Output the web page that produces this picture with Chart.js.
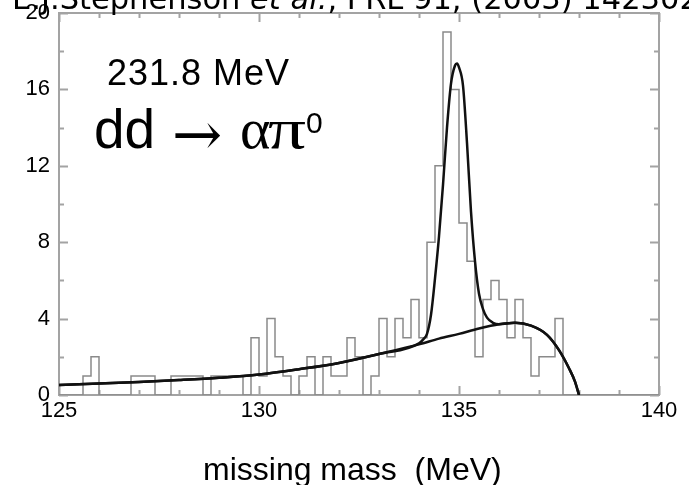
<!DOCTYPE html>
<html>
<head>
<meta charset="utf-8">
<script src="https://cdn.jsdelivr.net/npm/chart.js@4.4.0/dist/chart.umd.min.js"></script>
<style>
  html, body { margin: 0; padding: 0; background: #fff; }
  canvas { display: block; }
</style>
</head>
<body>
<canvas id="chart" width="689" height="485"></canvas>
<script>
// histogram: counts per 0.2 MeV bin, starting at 125 MeV
const binLow = 125;
const binWidth = 0.2;
const counts = [
  0, 0, 0, 0, 1, 2, 0, 0, 0, 0,
  1, 1, 1, 0, 0, 1, 1, 1, 1, 0,
  1, 1, 1, 1, 0, 3, 1, 4, 2, 1,
  0, 1, 2, 0, 2, 1, 1, 3, 2, 0,
  1, 4, 2, 4, 3, 5, 3, 8, 12, 19,
  16, 9, 7, 2, 5, 6, 5, 3, 5, 3,
  1, 2, 2, 4, 0, 0, 0, 0, 0, 0,
  0, 0, 0, 0, 0
];

// background fit curve
const bgX = [125, 126, 127, 128, 129, 130, 131, 132, 133, 134, 134.5, 135, 135.5, 136, 136.4, 136.8, 137.2, 137.5, 137.75, 137.9, 138.0];
const bgY = [0.52, 0.6, 0.68, 0.78, 0.9, 1.07, 1.35, 1.68, 2.15, 2.65, 2.95, 3.2, 3.48, 3.7, 3.78, 3.63, 3.15, 2.35, 1.4, 0.7, 0];

// peak part of the total fit (background + peak)
const peakX = [134.0, 134.1, 134.2, 134.3, 134.4, 134.5, 134.6, 134.7, 134.8, 134.9, 134.95, 135.0, 135.1, 135.2, 135.3, 135.4, 135.5, 135.6, 135.7, 135.85];
const peakY = [2.7, 2.9, 3.2, 4.2, 6.1, 8.3, 11.0, 14.0, 16.3, 17.25, 17.35, 17.15, 16.2, 13.2, 9.6, 7.0, 5.3, 4.5, 4.05, 3.78];

// axis ticks
const xLabels = [125, 130, 135, 140];
const yLabels = [0, 4, 8, 12, 16, 20];
const xTickMarks = [125, 126, 127, 128, 129, 130, 131, 132, 133, 134, 135, 136, 137, 138, 139, 140];
const yTickMarks = [0, 2, 4, 6, 8, 10, 12, 14, 16, 18, 20];

const histPoints = counts.map((c, i) => ({ x: binLow + i * binWidth, y: c }));
histPoints.push({ x: binLow + counts.length * binWidth, y: 0 });

const bgPoints = bgX.map((x, i) => ({ x: x, y: bgY[i] }));
const totalPoints = bgPoints.filter(p => p.x < peakX[0])
  .concat(peakX.map((x, i) => ({ x: x, y: peakY[i] })))
  .concat(bgPoints.filter(p => p.x > peakX[peakX.length - 1]));

const frameColor = '#a3a3a3';

const framePlugin = {
  id: 'frame',
  beforeDatasetsDraw(chart) {
    const { ctx, chartArea: a, scales: { x, y } } = chart;
    ctx.save();
    ctx.strokeStyle = frameColor;
    ctx.lineWidth = 2;
    ctx.beginPath();
    xTickMarks.forEach(v => {
      const px = Math.round(x.getPixelForValue(v)) + 0.5;
      const len = v % 5 === 0 ? 9 : 5;
      ctx.moveTo(px, a.bottom); ctx.lineTo(px, a.bottom - len);
      ctx.moveTo(px, a.top); ctx.lineTo(px, a.top + len);
    });
    yTickMarks.forEach(v => {
      const py = Math.round(y.getPixelForValue(v)) + 0.5;
      const len = v % 4 === 0 ? 9 : 5;
      ctx.moveTo(a.left, py); ctx.lineTo(a.left + len, py);
      ctx.moveTo(a.right, py); ctx.lineTo(a.right - len, py);
    });
    ctx.stroke();
    ctx.strokeRect(a.left, a.top, a.right - a.left, a.bottom - a.top);
    ctx.restore();
  }
};

const textPlugin = {
  id: 'texts',
  afterDraw(chart) {
    const ctx = chart.ctx;
    ctx.save();
    ctx.fillStyle = '#000';
    ctx.textBaseline = 'alphabetic';
    ctx.textAlign = 'left';

    // reference line, cut at the top edge
    const parts = [
      ['E.J.Stephenson ', 'normal'],
      ['et al.', 'italic'],
      [', PRL 91, (2003) 142302', 'normal']
    ];
    let tx = 12;
    parts.forEach(([s, style]) => {
      ctx.font = style + ' 30.5px "DejaVu Sans"';
      ctx.fillText(s, tx, 9);
      tx += ctx.measureText(s).width;
    });

    // energy
    ctx.font = '36px "Liberation Sans"';
    ctx.letterSpacing = '1px';
    ctx.fillText('231.8 MeV', 107, 85);
    ctx.letterSpacing = '0px';

    // reaction
    ctx.font = '55px "Liberation Sans"';
    ctx.fillText('dd', 94, 148);
    ctx.font = '60px "DejaVu Serif"';
    ctx.fillText('\u2192', 172, 155);
    ctx.font = '58px "Liberation Serif"';
    ctx.fillText('\u03b1', 240, 148);
    ctx.save();
    ctx.translate(268, 148);
    ctx.scale(1.3, 1);
    ctx.fillText('\u03c0', 0, 0);
    ctx.restore();
    ctx.font = '30px "Liberation Sans"';
    ctx.fillText('0', 306, 133);

    // axis title
    ctx.font = '32px "Liberation Sans"';
    ctx.fillText('missing mass  (MeV)', 203, 480);
    ctx.restore();
  }
};

new Chart(document.getElementById('chart'), {
  type: 'line',
  data: {
    datasets: [
      {
        label: 'fit',
        data: totalPoints,
        borderColor: '#111',
        borderWidth: 2.5,
        pointRadius: 0,
        cubicInterpolationMode: 'monotone',
        fill: false
      },
      {
        label: 'background',
        data: bgPoints,
        borderColor: '#111',
        borderWidth: 2.5,
        pointRadius: 0,
        cubicInterpolationMode: 'monotone',
        fill: false
      },
      {
        label: 'data',
        data: histPoints,
        borderColor: '#8a8a8a',
        borderWidth: 1.5,
        pointRadius: 0,
        stepped: 'after',
        fill: false
      }
    ]
  },
  options: {
    responsive: false,
    animation: false,
    devicePixelRatio: 1,
    layout: { padding: { top: 13, right: 30, left: 0, bottom: 0 } },
    plugins: {
      legend: { display: false },
      tooltip: { enabled: false },
      title: { display: false }
    },
    scales: {
      x: {
        type: 'linear',
        min: 125,
        max: 140,
        afterFit(scale) {
          scale.height = 90;
          scale.paddingLeft = 0;
          scale.paddingRight = 0;
        },
        afterBuildTicks(scale) { scale.ticks = xLabels.map(v => ({ value: v })); },
        grid: { display: false, drawTicks: false },
        border: { display: false },
        ticks: {
          padding: 5,
          maxRotation: 0,
          autoSkip: false,
          color: '#000',
          font: { family: 'Liberation Sans', size: 22, lineHeight: 1 }
        }
      },
      y: {
        type: 'linear',
        min: 0,
        max: 20,
        afterFit(scale) {
          scale.width = 59;
          scale.paddingTop = 0;
          scale.paddingBottom = 0;
        },
        afterBuildTicks(scale) { scale.ticks = yLabels.map(v => ({ value: v })); },
        grid: { display: false, drawTicks: false },
        border: { display: false },
        ticks: {
          padding: 9,
          color: '#000',
          font: { family: 'Liberation Sans', size: 22, lineHeight: 1 }
        }
      }
    }
  },
  plugins: [framePlugin, textPlugin]
});
</script>
</body>
</html>
